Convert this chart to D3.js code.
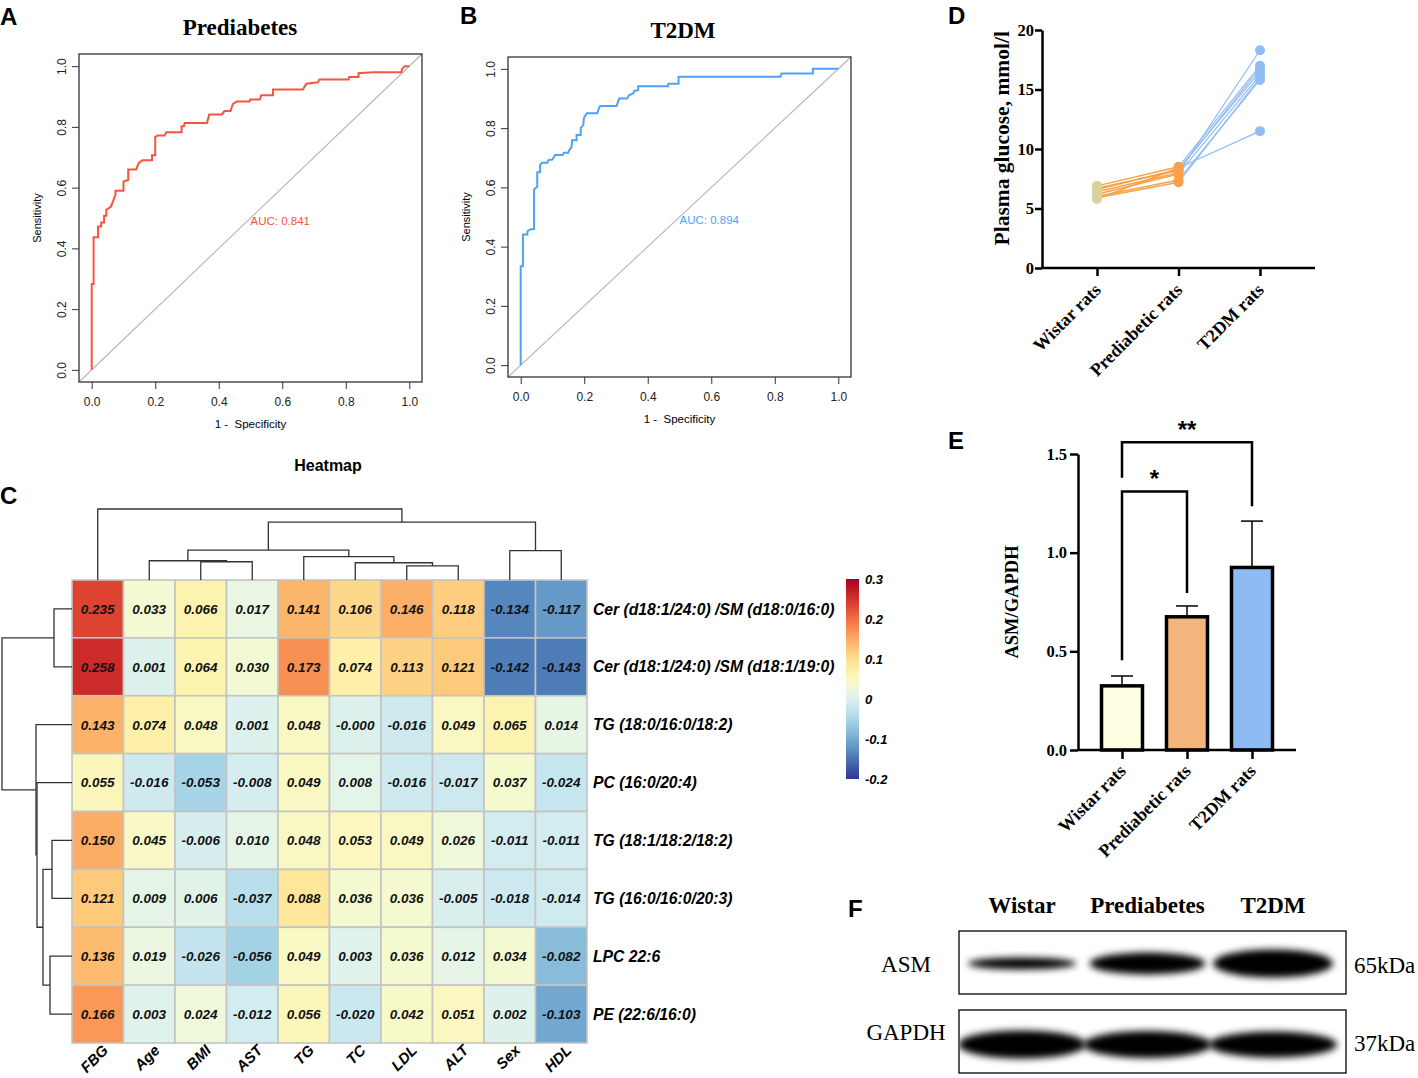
<!DOCTYPE html>
<html>
<head>
<meta charset="utf-8">
<script src="https://cdn.jsdelivr.net/npm/d3@7"></script>
<style>
  body { margin: 0; background: #fff; }
  svg { display: block; }
</style>
</head>
<body>
<div id="fig"></div>
<script>
//DATA
// ROC curves (vertices of the step curves, 1 - specificity / sensitivity)
const preFpr = [0,0,0.006,0.006,0.02,0.02,0.03,0.03,0.039,0.039,0.046,0.046,0.053,0.06,0.067,0.072,0.075,0.075,0.1,0.1,0.115,0.115,0.14,0.145,0.15,0.16,0.19,0.19,0.2,0.2,0.208,0.23,0.235,0.283,0.283,0.29,0.293,0.363,0.37,0.41,0.418,0.437,0.442,0.445,0.457,0.497,0.499,0.529,0.534,0.571,0.571,0.665,0.676,0.712,0.717,0.808,0.811,0.84,0.84,0.886,0.975,0.977,0.985,1];
const preTpr = [0,0.283,0.283,0.437,0.437,0.472,0.472,0.485,0.485,0.507,0.507,0.528,0.532,0.537,0.554,0.57,0.575,0.59,0.59,0.62,0.625,0.66,0.66,0.674,0.683,0.69,0.69,0.707,0.707,0.767,0.772,0.772,0.782,0.782,0.802,0.802,0.813,0.813,0.841,0.841,0.852,0.852,0.868,0.876,0.884,0.884,0.89,0.89,0.904,0.904,0.923,0.923,0.942,0.947,0.956,0.956,0.964,0.964,0.977,0.98,0.98,0.99,1,1];
const t2Fpr = [0,0,0.007,0.007,0.021,0.021,0.03,0.042,0.042,0.052,0.052,0.061,0.061,0.067,0.084,0.087,0.1,0.108,0.132,0.136,0.15,0.153,0.16,0.162,0.176,0.176,0.189,0.189,0.197,0.199,0.208,0.241,0.245,0.25,0.302,0.31,0.335,0.341,0.354,0.358,0.37,0.37,0.464,0.465,0.497,0.497,0.818,0.821,0.92,0.92,1];
const t2Tpr = [0,0.334,0.334,0.441,0.441,0.452,0.458,0.46,0.593,0.602,0.651,0.651,0.675,0.683,0.683,0.692,0.694,0.709,0.709,0.717,0.717,0.726,0.735,0.759,0.759,0.777,0.777,0.801,0.81,0.834,0.85,0.85,0.863,0.875,0.875,0.9,0.9,0.911,0.917,0.926,0.928,0.941,0.941,0.95,0.95,0.973,0.973,0.984,0.984,1,1];
const aucPre = 0.841;
const aucT2 = 0.894;
const rocTicks = [0, 0.2, 0.4, 0.6, 0.8, 1.0];

// Heatmap
const hmCols = ['FBG', 'Age', 'BMI', 'AST', 'TG', 'TC', 'LDL', 'ALT', 'Sex', 'HDL'];
const hmRows = ['Cer (d18:1/24:0) /SM (d18:0/16:0)', 'Cer (d18:1/24:0) /SM (d18:1/19:0)', 'TG (18:0/16:0/18:2)', 'PC (16:0/20:4)',
                'TG (18:1/18:2/18:2)', 'TG (16:0/16:0/20:3)', 'LPC 22:6', 'PE (22:6/16:0)'];
const hmValues = [
  [0.235, 0.033, 0.066, 0.017, 0.141, 0.106, 0.146, 0.118, -0.134, -0.117],
  [0.258, 0.001, 0.064, 0.030, 0.173, 0.074, 0.113, 0.121, -0.142, -0.143],
  [0.143, 0.074, 0.048, 0.001, 0.048, -0.0001, -0.016, 0.049, 0.065, 0.014],
  [0.055, -0.016, -0.053, -0.008, 0.049, 0.008, -0.016, -0.017, 0.037, -0.024],
  [0.150, 0.045, -0.006, 0.010, 0.048, 0.053, 0.049, 0.026, -0.011, -0.011],
  [0.121, 0.009, 0.006, -0.037, 0.088, 0.036, 0.036, -0.005, -0.018, -0.014],
  [0.136, 0.019, -0.026, -0.056, 0.049, 0.003, 0.036, 0.012, 0.034, -0.082],
  [0.166, 0.003, 0.024, -0.012, 0.056, -0.020, 0.042, 0.051, 0.002, -0.103]
];
const legendTicks = [0.3, 0.2, 0.1, 0, -0.1, -0.2];
// hclust style merges: negative = leaf (1-based), positive = earlier merge
const colMerge = [[-7,-8], [-6,1], [-3,-4], [-2,3], [-5,2], [-9,-10], [4,5], [7,6], [-1,8]];
const colHeight = [0.14, 0.17, 0.18, 0.19, 0.23, 0.29, 0.295, 0.57, 0.70];
const rowMerge = [[-1,-2], [-5,-6], [-7,-8], [2,3], [-4,4], [-3,5], [1,6]];
const rowHeight = [0.18, 0.20, 0.22, 0.29, 0.35, 0.36, 0.70];

// Plasma glucose (mmol/l), one entry per rat
const groups = ['Wistar rats', 'Prediabetic rats', 'T2DM rats'];
const wistarGlu = [6.9, 6.7, 6.6, 6.4, 6.2, 6.0, 5.9, 5.8];
const prediabGlu = [8.5, 8.2, 8.3, 8.0, 7.9, 7.4, 7.2, 8.4];
const t2dmGlu = [17.0, 16.8, 16.5, 18.3, 16.2, 15.8, 16.0, 11.5];
const gluTicks = [0, 5, 10, 15, 20];

// ASM/GAPDH
const asmMean = [0.325, 0.675, 0.925];
const asmSem = [0.05, 0.055, 0.235];
const asmTicks = [0, 0.5, 1.0, 1.5];
const sigPairs = [[0, 1], [0, 2]];
const sigLabel = ['*', '**'];
const sigTop = [1.31, 1.56];
const sigLegs = [[0.455, 0.795], [1.38, 1.235]];

// Western blot
const lanes = ['Wistar', 'Prediabetes', 'T2DM'];
const blotRows = ['ASM', 'GAPDH'];
const blotKda = ['65kDa', '37kDa'];
const asmBand = [0.42, 0.78, 1.0];
const gapdhBand = [1.0, 0.97, 0.93];

//SETUP
const serif = "'Liberation Serif','Times New Roman',serif";
const sans = "'Liberation Sans',Arial,Helvetica,sans-serif";
const W = 1418, H = 1078;
const svg = d3.select('#fig').append('svg').attr('width', W).attr('height', H);
svg.append('rect').attr('width', W).attr('height', H).attr('fill', '#fff');

function panelLabel(t, x, y) {
  svg.append('text').attr('x', x).attr('y', y).text(t)
     .style('font-family', sans).style('font-weight', 'bold').style('font-size', '24px');
}

//ROC PANELS
function drawRoc(box, title, titleX, fpr, tpr, color, auc) {
  const x = d3.scaleLinear().domain([-0.04, 1.04]).range([box.l, box.r]);
  const y = d3.scaleLinear().domain([-0.04, 1.04]).range([box.b, box.t]);
  const g = svg.append('g');
  g.append('text').attr('x', titleX).attr('y', box.t - 19).attr('text-anchor', 'middle').text(title)
   .style('font-family', serif).style('font-weight', 'bold').style('font-size', '23px');
  // diagonal
  g.append('line').attr('x1', x(-0.04)).attr('y1', y(-0.04)).attr('x2', x(1.04)).attr('y2', y(1.04))
   .attr('stroke', '#b5b5b5').attr('stroke-width', 1.1);
  const ax = g.append('g').attr('transform', `translate(0,${box.b})`)
    .call(d3.axisBottom(x).tickValues(rocTicks).tickFormat(d3.format('.1f')).tickSize(7).tickPadding(8));
  const ay = g.append('g').attr('transform', `translate(${box.l},0)`)
    .call(d3.axisLeft(y).tickValues(rocTicks).tickFormat(d3.format('.1f')).tickSize(7).tickPadding(4));
  [ax, ay].forEach(a => {
    a.select('.domain').remove();
    a.selectAll('line').attr('stroke', '#333');
    a.selectAll('text').style('font-family', sans).style('font-size', '12px').attr('fill', '#222');
  });
  ay.selectAll('.tick text').attr('transform', 'rotate(-90)').attr('text-anchor', 'middle')
    .attr('x', 0).attr('y', -17).attr('dy', '0.32em');
  g.append('rect').attr('x', box.l).attr('y', box.t).attr('width', box.r - box.l).attr('height', box.b - box.t)
   .attr('fill', 'none').attr('stroke', '#333').attr('stroke-width', 1.3);
  const line = d3.line().x(i => x(fpr[i])).y(i => y(tpr[i]));
  g.append('path').attr('d', line(d3.range(fpr.length))).attr('fill', 'none')
   .attr('stroke', color).attr('stroke-width', 2);
  g.append('text').attr('x', x(0.5)).attr('y', y(0.5)).attr('dy', '0.6em').text('AUC: ' + d3.format('.3f')(auc))
   .attr('fill', color).style('font-family', sans).style('font-size', '11.5px');
  g.append('text').attr('x', (box.l + box.r) / 2).attr('y', box.b + 46).attr('text-anchor', 'middle')
   .text('1 -  Specificity').style('white-space', 'pre').style('font-family', sans).style('font-size', '11.5px');
  g.append('text').attr('transform', `translate(${box.l - 38},${(box.t + box.b) / 2}) rotate(-90)`)
   .attr('text-anchor', 'middle').text('Sensitivity').style('font-family', sans).style('font-size', '11px');
}
drawRoc({l: 79, r: 422, t: 54, b: 382}, 'Prediabetes', 240, preFpr, preTpr, '#f5553e', aucPre);
drawRoc({l: 508, r: 851, t: 57, b: 377}, 'T2DM', 683, t2Fpr, t2Tpr, '#4fa3f7', aucT2);
panelLabel('A', 0, 25);
panelLabel('B', 460, 24);

//HEATMAP
const hmX = d3.scaleBand().domain(d3.range(hmCols.length)).range([72, 587]);
const hmY = d3.scaleBand().domain(d3.range(hmRows.length)).range([580, 1043]);
const hmColor = d3.scaleSequential(d3.interpolateRdYlBu).domain([0.3, -0.2]);
const fmt3 = v => v.toFixed(3);
const hm = svg.append('g');
hm.append('text').attr('x', 328).attr('y', 471).attr('text-anchor', 'middle').text('Heatmap')
  .style('font-family', sans).style('font-weight', 'bold').style('font-size', '16px');
const cells = hmValues.flatMap((row, i) => row.map((v, j) => ({i, j, v})));
hm.selectAll('rect.cell').data(cells).enter().append('rect').attr('class', 'cell')
  .attr('x', d => hmX(d.j)).attr('y', d => hmY(d.i))
  .attr('width', hmX.bandwidth()).attr('height', hmY.bandwidth())
  .attr('fill', d => hmColor(d.v)).attr('stroke', '#c4c4c4').attr('stroke-width', 1.6);
hm.selectAll('text.val').data(cells).enter().append('text').attr('class', 'val')
  .attr('x', d => hmX(d.j) + hmX.bandwidth() / 2).attr('y', d => hmY(d.i) + hmY.bandwidth() / 2)
  .attr('dy', '0.36em').attr('text-anchor', 'middle').text(d => fmt3(d.v))
  .style('font-family', sans).style('font-weight', 'bold').style('font-style', 'italic').style('font-size', '13.5px')
  .attr('fill', '#111');
hm.selectAll('text.rowlab').data(hmRows).enter().append('text').attr('class', 'rowlab')
  .attr('x', 593).attr('y', (d, i) => hmY(i) + hmY.bandwidth() / 2).attr('dy', '0.36em').text(d => d)
  .style('font-family', sans).style('font-weight', 'bold').style('font-style', 'italic').style('font-size', '15.7px');
hm.selectAll('text.collab').data(hmCols).enter().append('text').attr('class', 'collab')
  .attr('transform', (d, i) => `translate(${hmX(i) + hmX.bandwidth() / 2 + 6},${1046}) rotate(-45)`)
  .attr('text-anchor', 'end').attr('dy', '0.5em').text(d => d)
  .style('font-family', sans).style('font-weight', 'bold').style('font-style', 'italic').style('font-size', '15px');

function drawDendro(merges, heights, leafPos, hScale, vertical) {
  const nodes = [];
  const get = k => k < 0 ? {p: leafPos(-k - 1), h: 0} : nodes[k - 1];
  merges.forEach((m, i) => {
    const a = get(m[0]), b = get(m[1]), h = heights[i];
    nodes.push({p: (a.p + b.p) / 2, h: h});
    const pts = [[a.p, a.h], [a.p, h], [b.p, h], [b.p, b.h]];
    hm.append('path')
      .attr('d', d3.line()(pts.map(([p, hh]) => vertical ? [p, hScale(hh)] : [hScale(hh), p])))
      .attr('fill', 'none').attr('stroke', '#333').attr('stroke-width', 1.3);
  });
}
drawDendro(colMerge, colHeight, j => hmX(j) + hmX.bandwidth() / 2,
           d3.scaleLinear().domain([0, 0.70]).range([580, 509]), true);
drawDendro(rowMerge, rowHeight, i => hmY(i) + hmY.bandwidth() / 2,
           d3.scaleLinear().domain([0, 0.70]).range([72, 2]), false);

// colour key
const keyY = d3.scaleLinear().domain([-0.2, 0.3]).range([779, 579]);
const defs = svg.append('defs');
const grad = defs.append('linearGradient').attr('id', 'key').attr('x1', 0).attr('x2', 0).attr('y1', 1).attr('y2', 0);
d3.range(0, 1.0001, 0.05).forEach(t => {
  grad.append('stop').attr('offset', t).attr('stop-color', hmColor(-0.2 + 0.5 * t));
});
hm.append('rect').attr('x', 846).attr('y', keyY(0.3)).attr('width', 13).attr('height', keyY(-0.2) - keyY(0.3))
  .attr('fill', 'url(#key)');
hm.selectAll('text.key').data(legendTicks).enter().append('text').attr('class', 'key')
  .attr('x', 865).attr('y', d => keyY(d)).attr('dy', '0.36em').text(d => d3.format('')(d).replace('−', '-'))
  .style('font-family', sans).style('font-weight', 'bold').style('font-style', 'italic').style('font-size', '13px');
panelLabel('C', 0, 504);

//GLUCOSE PANEL (D)
const dX = d3.scalePoint().domain(groups).range([1097, 1260]);
const dY = d3.scaleLinear().domain([0, 20]).range([268, 30]);
const gd = svg.append('g');
const wistarCol = '#d5d39b', orangeCol = '#f7a24b', blueCol = '#91bdf3';
wistarGlu.forEach((v, k) => {
  gd.append('line').attr('x1', dX(groups[0])).attr('y1', dY(v)).attr('x2', dX(groups[1])).attr('y2', dY(prediabGlu[k]))
    .attr('stroke', orangeCol).attr('stroke-width', 1.5);
  gd.append('line').attr('x1', dX(groups[1])).attr('y1', dY(prediabGlu[k])).attr('x2', dX(groups[2])).attr('y2', dY(t2dmGlu[k]))
    .attr('stroke', blueCol).attr('stroke-width', 1.2);
});
[[wistarGlu, wistarCol, 0], [prediabGlu, orangeCol, 1], [t2dmGlu, blueCol, 2]].forEach(([vals, col, gi]) => {
  gd.selectAll(null).data(vals).enter().append('circle')
    .attr('cx', dX(groups[gi])).attr('cy', d => dY(d)).attr('r', 5).attr('fill', col);
});
const dAxY = gd.append('g').attr('transform', 'translate(1042,0)')
  .call(d3.axisLeft(dY).tickValues(gluTicks).tickSize(7).tickPadding(1).tickSizeOuter(0));
const dAxX = gd.append('g').attr('transform', `translate(0,${dY(0)})`)
  .call(d3.axisBottom(dX).tickSize(8).tickFormat('').tickSizeOuter(0));
dAxX.select('.domain').attr('d', `M1042,0H1315`);
[dAxX, dAxY].forEach(a => {
  a.selectAll('path, line').attr('stroke', '#000').attr('stroke-width', 2.5);
  a.selectAll('text').style('font-family', serif).style('font-weight', 'bold').style('font-size', '16.5px').attr('fill', '#000');
});
gd.selectAll('text.dcat').data(groups).enter().append('text').attr('class', 'dcat')
  .attr('transform', d => `translate(${dX(d) + 5},${291}) rotate(-45)`).attr('text-anchor', 'end').text(d => d)
  .style('font-family', serif).style('font-weight', 'bold').style('font-size', '18px');
gd.append('text').attr('transform', `translate(1009,${dY(10.9)}) rotate(-90)`).attr('text-anchor', 'middle')
  .text('Plasma glucose, mmol/l').style('font-family', serif).style('font-weight', 'bold').style('font-size', '21.5px');
panelLabel('D', 948, 24);

//ASM BAR PANEL (E)
const eX = d3.scalePoint().domain(groups).range([1122, 1252]);
const eY = d3.scaleLinear().domain([0, 1.5]).range([750, 454]);
const barCols = ['#fffde2', '#f2b67c', '#8fbbf5'];
const ge = svg.append('g');
const barW = 41;
asmMean.forEach((m, k) => {
  const cx = eX(groups[k]);
  ge.append('line').attr('x1', cx).attr('x2', cx).attr('y1', eY(m)).attr('y2', eY(m + asmSem[k]))
    .attr('stroke', '#000').attr('stroke-width', 1.5);
  ge.append('line').attr('x1', cx - 11).attr('x2', cx + 11).attr('y1', eY(m + asmSem[k])).attr('y2', eY(m + asmSem[k]))
    .attr('stroke', '#000').attr('stroke-width', 1.5);
  ge.append('rect').attr('x', cx - barW / 2).attr('y', eY(m)).attr('width', barW).attr('height', eY(0) - eY(m))
    .attr('fill', barCols[k]).attr('stroke', '#000').attr('stroke-width', 3.5);
});
sigPairs.forEach(([a, b], k) => {
  const xa = eX(groups[a]), xb = eX(groups[b]);
  ge.append('path').attr('d', d3.line()([[xa, eY(sigLegs[k][0])], [xa, eY(sigTop[k])], [xb, eY(sigTop[k])], [xb, eY(sigLegs[k][1])]]))
    .attr('fill', 'none').attr('stroke', '#000').attr('stroke-width', 2.5);
  ge.append('text').attr('x', (xa + xb) / 2).attr('y', eY(sigTop[k]) - 4).attr('text-anchor', 'middle').text(sigLabel[k])
    .style('font-family', sans).style('font-weight', 'bold').style('font-size', '24px');
});
const eAxY = ge.append('g').attr('transform', 'translate(1078,0)')
  .call(d3.axisLeft(eY).tickValues(asmTicks).tickFormat(d3.format('.1f')).tickSize(8).tickPadding(3).tickSizeOuter(0));
const eAxX = ge.append('g').attr('transform', `translate(0,${eY(0)})`)
  .call(d3.axisBottom(eX).tickSize(9).tickFormat('').tickSizeOuter(0));
eAxX.select('.domain').attr('d', 'M1078,0H1296');
[eAxX, eAxY].forEach(a => {
  a.selectAll('path, line').attr('stroke', '#000').attr('stroke-width', 2.5);
  a.selectAll('text').style('font-family', serif).style('font-weight', 'bold').style('font-size', '16.5px').attr('fill', '#000');
});
ge.selectAll('text.ecat').data(groups).enter().append('text').attr('class', 'ecat')
  .attr('transform', d => `translate(${eX(d) + 5},${772}) rotate(-45)`).attr('text-anchor', 'end').text(d => d)
  .style('font-family', serif).style('font-weight', 'bold').style('font-size', '18px');
ge.append('text').attr('transform', `translate(1018,${eY(0.75)}) rotate(-90)`).attr('text-anchor', 'middle')
  .text('ASM/GAPDH').style('font-family', serif).style('font-weight', 'bold').style('font-size', '18.5px');
panelLabel('E', 948, 449);

//WESTERN BLOT (F)
const laneX = d3.scalePoint().domain(lanes).range([1022, 1273]);
const blotBox = [{t: 931, b: 994}, {t: 1010, b: 1073}];
const blotLabelY = [972, 1040];
const kdaY = [973, 1051];
const blur = defs.append('filter').attr('id', 'blur').attr('x', '-20%').attr('y', '-50%').attr('width', '140%').attr('height', '200%');
blur.append('feGaussianBlur').attr('stdDeviation', 3.5);
const gf = svg.append('g');
gf.selectAll('text.lane').data(lanes).enter().append('text').attr('class', 'lane')
  .attr('x', d => laneX(d)).attr('y', 913).attr('text-anchor', 'middle').text(d => d)
  .style('font-family', serif).style('font-weight', 'bold').style('font-size', '23px');
[asmBand, gapdhBand].forEach((bands, r) => {
  const bx = blotBox[r];
  const cy = (bx.t + bx.b) / 2 + (r === 0 ? 1 : 3);
  const clip = defs.append('clipPath').attr('id', 'clip' + r);
  clip.append('rect').attr('x', 960).attr('y', bx.t + 1).attr('width', 385).attr('height', bx.b - bx.t - 2);
  const lg = gf.append('g').attr('clip-path', `url(#clip${r})`);
  bands.forEach((s, k) => {
    lg.append('ellipse').attr('cx', laneX(lanes[k])).attr('cy', cy)
      .attr('rx', r === 0 ? 50 + 10 * s : 64).attr('ry', 14 * s)
      .attr('fill', '#000').attr('filter', 'url(#blur)');
  });
  gf.append('rect').attr('x', 959).attr('y', bx.t).attr('width', 387).attr('height', bx.b - bx.t)
    .attr('fill', 'none').attr('stroke', '#000').attr('stroke-width', 1.3);
  gf.append('text').attr('x', 906).attr('y', blotLabelY[r]).attr('text-anchor', 'middle').text(blotRows[r])
    .style('font-family', serif).style('font-size', '23px');
  gf.append('text').attr('x', 1354).attr('y', kdaY[r]).text(blotKda[r])
    .style('font-family', serif).style('font-size', '23px');
});
panelLabel('F', 848, 917);
</script>
</body>
</html>
